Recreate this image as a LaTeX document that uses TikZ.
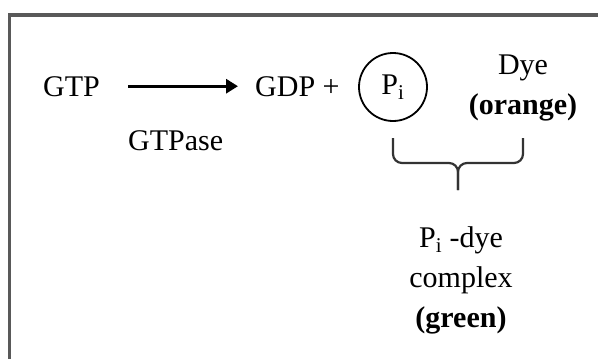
\documentclass[tikz,border=0pt]{standalone}
\usepackage{fontspec}
\setmainfont{Liberation Serif}
\usetikzlibrary{arrows.meta,calc}
\tikzset{
	lbl/.style={inner sep=0pt},
	frameline/.style={line width=3.5pt,draw=black!65},
	bracepath/.style={line width=2.2pt,draw=black!80,rounded corners=9pt},
}
\begin{document}
\begin{tikzpicture}[x=1pt,y=-1pt,font=\fontsize{30}{40}\selectfont]
	\useasboundingbox (0,0) rectangle (598,359);
	\clip (0,0) rectangle (598,359);
	\draw[frameline] (9.5,380) |- (620,15);
	\node[name=gtp,lbl,anchor=base west] at (43,96){GTP};
	\node[name=gdp,lbl,anchor=base west] at (255,96){GDP +};
	\node[name=pi,draw,circle,lbl,line width=1.8pt,minimum size=68pt] at (393,87){P\textsubscript{i}};
	\node[name=dye,lbl,align=center,anchor=north] at (523,55){Dye\\\textbf{(orange)}};
	\node[name=gtpase,lbl,anchor=base west] at (128,150){GTPase};
	\node[name=cplx,lbl,align=center,anchor=north] at (461,226){P\textsubscript{i} -dye\\complex\\\textbf{(green)}};
	\draw[line width=3pt,-{Triangle[length=12pt,width=14pt]},shorten <=28pt,shorten >=17pt] (gtp) -- (gdp);
	\coordinate (bt) at (0,138);
	\coordinate (bl) at (pi.center |- bt);
	\coordinate (br) at (dye.center |- bt);
	\coordinate (tip) at ($(bl)!0.5!(br)$);
	\draw[bracepath] (bl) |- ($(tip)+(0,25)$) -- ++(0,27);
	\draw[bracepath] (br) |- ($(tip)+(0,25)$) -- ++(0,27);
\end{tikzpicture}
\end{document}
